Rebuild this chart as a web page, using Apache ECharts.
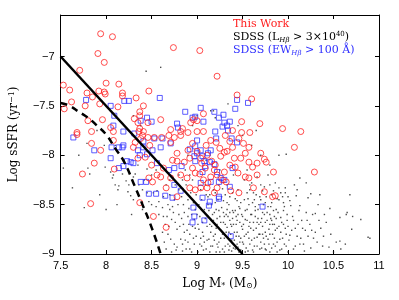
<!DOCTYPE html>
<html><head><meta charset="utf-8">
<script src="https://cdn.jsdelivr.net/npm/echarts@6/dist/echarts.min.js"></script>
<style>html,body{margin:0;padding:0;background:#fff}#c{width:399px;height:300px}</style>
</head><body><div id="c"></div>
<script>
// ---- data (Log M*, Log sSFR) ----
var xTicks = [7.5, 8, 8.5, 9, 9.5, 10, 10.5, 11];
var yTicks = [-9, -8.5, -8, -7.5, -7];

var solidLineX = [7.5, 9.5];
var solidLineY = [-7.0, -9.0];
var dashedLineX = [7.5, 7.6, 7.7, 7.8, 7.9, 8.0, 8.1, 8.2, 8.3, 8.4, 8.5, 8.6];
var dashedLineY = [-7.47, -7.5, -7.56, -7.62, -7.7, -7.79, -7.93, -8.07, -8.28, -8.5, -8.73, -9.0];

var thisWork = [
[7.94,-6.77],[8.07,-6.80],[7.91,-6.97],[7.98,-7.06],[7.71,-7.14],[7.53,-7.29],[7.60,-7.34],[7.79,-7.37],
[8.0,-7.27],[8.14,-7.28],[7.92,-7.35],[7.98,-7.36],[8.18,-7.37],[8.18,-7.40],[7.85,-7.41],[7.99,-7.38],
[8.47,-7.35],[8.33,-7.42],[7.62,-7.46],[7.77,-7.5],[7.93,-7.48],[7.54,-7.53],[8.13,-7.51],[8.41,-7.5],
[8.37,-7.56],[8.37,-7.6],[8.31,-7.63],[7.8,-7.65],[7.96,-7.64],[8.6,-7.64],[8.46,-7.67],[8.35,-7.67],
[8.05,-7.72],[8.08,-7.76],[8.37,-7.73],[7.84,-7.76],[7.68,-7.77],[8.36,-7.76],[8.41,-7.76],
[8.74,-6.91],[9.03,-6.94],[9.22,-7.2],[9.44,-7.39],[9.6,-7.43],[9.07,-7.58],[8.96,-7.64],[9.0,-7.65],
[8.93,-7.67],[9.49,-7.66],[9.69,-7.68],[8.71,-7.74],[8.84,-7.73],[8.82,-7.76],[9.0,-7.76],[9.07,-7.76],
[8.9,-7.77],[9.39,-7.75],[9.49,-7.77],[9.58,-7.77],[9.94,-7.73],[10.14,-7.76],
[10.07,-7.92],[10.29,-8.17],[9.86,-8.41],[9.84,-8.17],
[7.68,-7.79],[7.84,-7.88],[7.94,-7.95],[8.08,-7.85],[7.87,-8.08],[7.74,-8.19],[7.83,-8.49],[8.09,-8.14],
[8.3,-7.92],[8.32,-7.87],[8.38,-7.83],[8.4,-7.8],[8.48,-7.9],[8.46,-7.82],[8.53,-7.82],[8.61,-7.82],
[8.35,-8.03],[8.43,-8.02],[8.5,-8.1],[8.47,-8.23],[8.51,-8.27],[8.56,-8.2],[8.6,-8.22],[8.37,-8.48],
[8.52,-8.62],[8.66,-8.73],[8.66,-8.33],[8.63,-8.13],
[8.75,-7.82],[8.71,-7.87],[9.15,-7.85],[9.21,-7.87],[9.31,-7.8],[9.46,-7.83],[9.51,-7.88],[9.57,-7.92],
[8.9,-7.95],[9.0,-7.96],[9.33,-7.96],[9.39,-7.92],[8.78,-7.98],[8.73,-8.05],[8.78,-8.06],[8.86,-8.07],
[8.92,-8.03],[9.04,-8.03],[9.11,-8.0],[9.26,-8.01],[9.3,-7.97],[9.41,-8.03],[9.48,-8.03],[9.57,-8.07],
[9.66,-8.08],[9.74,-8.04],[9.76,-8.07],[9.42,-8.12],[9.61,-8.12],[8.95,-8.13],[9.09,-8.13],[9.19,-8.15],
[9.3,-8.17],[9.03,-8.19],[9.15,-8.22],[9.22,-8.2],[8.89,-8.23],[8.82,-8.2],[8.71,-8.23],[9.07,-8.25],
[9.28,-8.25],[9.32,-8.27],[9.53,-8.22],[9.57,-8.23],[8.92,-8.33],[8.98,-8.35],[9.04,-8.33],[9.11,-8.33],
[9.22,-8.33],[9.62,-8.33],[9.74,-8.37],[9.46,-8.38],[9.37,-8.36],[9.19,-8.38],[8.78,-8.42],[9.83,-8.42],
[8.82,-7.8],[8.69,-7.8],[9.1,-7.9],[9.25,-7.93],[9.36,-7.86],[9.05,-8.08],[9.16,-8.06],[9.45,-8.18],
[9.66,-8.2],[9.7,-7.98],[8.95,-7.88],[9.2,-8.1],[9.53,-7.98],[9.12,-8.28],[8.98,-8.18],[9.36,-8.1]
];

var sdssEW = [
[7.78,-7.44],[8.05,-7.5],[8.2,-7.45],[8.25,-7.45],[8.59,-7.42],[8.09,-7.6],[8.45,-7.62],[8.38,-7.65],
[8.5,-7.66],[8.08,-7.7],[8.19,-7.76],[8.31,-7.78],
[9.44,-7.44],[9.56,-7.47],[9.04,-7.52],[8.87,-7.56],[9.19,-7.56],[9.42,-7.53],[8.98,-7.61],[8.95,-7.62],
[9.29,-7.59],[9.24,-7.62],[9.07,-7.66],[9.36,-7.66],[9.3,-7.67],[9.33,-7.7],[8.78,-7.68],[8.79,-7.72],
[9.28,-7.71],[9.34,-7.75],[9.2,-7.76],
[7.64,-7.82],[7.87,-7.95],[8.05,-8.03],[8.06,-7.92],[8.14,-7.92],[8.19,-7.9],[8.18,-7.92],[8.23,-8.06],
[8.27,-8.07],[8.3,-8.08],[8.14,-8.13],[8.19,-8.11],[8.35,-7.95],[8.37,-8.0],[8.41,-7.86],[8.41,-7.92],
[8.45,-7.99],[8.51,-7.95],[8.53,-7.83],[8.6,-7.92],[8.56,-8.08],[8.38,-8.27],[8.44,-8.27],[8.47,-8.39],
[8.55,-8.39],[8.65,-8.41],[8.62,-7.83],
[9.0,-7.85],[9.21,-7.83],[9.38,-7.83],[9.44,-7.87],[8.71,-7.88],[8.98,-7.91],[9.04,-7.95],[9.15,-7.95],
[9.0,-7.98],[8.97,-8.01],[9.06,-8.01],[9.08,-8.06],[9.14,-8.07],[8.98,-8.06],[9.09,-8.11],[9.19,-8.09],
[8.83,-8.11],[8.69,-8.15],[8.75,-8.13],[9.39,-8.13],[9.06,-8.17],[9.22,-8.17],[9.15,-8.27],[9.24,-8.27],
[9.26,-8.23],[9.3,-8.25],[8.75,-8.3],[9.04,-8.28],[9.36,-8.32],[8.82,-8.36],[8.73,-8.43],[9.06,-8.43],
[9.24,-8.42],[9.14,-8.47],[9.13,-8.51],[8.96,-8.53],[8.97,-8.62],[8.95,-8.68],[9.08,-8.66],[9.72,-8.52],
[9.37,-8.82],[9.24,-8.44],[9.12,-7.98],[8.92,-7.94]
];

var sdssL = [
[7.53,-8.13],[7.63,-8.33],[7.76,-8.53],[7.8,-8.13],[7.82,-8.19],[7.79,-7.88],[7.93,-8.4],[7.99,-8.12],
[8.05,-8.17],[8.07,-8.23],[8.08,-8.2],[8.1,-8.3],[8.13,-8.35],[8.14,-8.31],[8.18,-8.19],[8.22,-8.26],
[8.25,-8.3],[8.3,-8.22],[8.32,-8.19],[8.24,-8.37],[8.27,-8.41],[8.3,-8.45],[8.36,-8.3],[8.4,-8.35],
[8.42,-8.25],[8.45,-8.38],[8.47,-8.47],[8.5,-8.5],[8.55,-8.52],[8.58,-8.47],[8.62,-8.53],[8.52,-8.38],
[8.56,-8.36],[8.58,-8.6],[8.63,-8.62],[8.45,-8.14],[8.5,-8.2],[8.55,-8.15],[8.35,-8.1],[8.2,-8.05],
[7.98,-7.9],[7.7,-8.0],[8.0,-8.55],[8.12,-8.5],[8.28,-8.6],[8.4,-8.55],[7.9,-7.75],[8.38,-7.7],
[8.6,-7.11],[8.44,-7.15],[9.34,-7.48],[9.18,-7.55],
[8.65,-8.7],[8.68,-8.8],[8.7,-8.55],[8.72,-8.65],[8.75,-8.9],[8.78,-8.75],[8.8,-8.6],[8.82,-8.85],
[8.85,-8.7],[8.85,-8.5],[8.88,-8.95],[8.9,-8.62],[8.92,-8.8],[8.95,-8.72],[8.97,-8.9],[8.98,-8.55],
[8.7,-8.4],[8.75,-8.45],[8.8,-8.35],[8.83,-8.42],[8.88,-8.3],[8.9,-8.45],[8.93,-8.38],[8.96,-8.48],
[8.66,-8.95],[8.72,-8.98],[8.78,-8.93],[8.84,-8.97],[8.9,-8.88],[8.94,-8.98],[8.99,-8.82],[8.68,-8.5],
[8.74,-8.58],[8.86,-8.78],[8.91,-8.7],[8.97,-8.65],[8.7,-8.25],[8.8,-8.2],[8.95,-8.25],[8.87,-8.15],
[9.0,-8.6],[9.02,-8.75],[9.03,-8.9],[9.05,-8.45],[9.06,-8.68],[9.07,-8.82],[9.08,-8.55],[9.1,-8.95],
[9.11,-8.72],[9.12,-8.62],[9.13,-8.85],[9.14,-8.4],[9.15,-8.78],[9.16,-8.5],[9.17,-8.92],[9.18,-8.66],
[9.19,-8.58],[9.2,-8.8],[9.21,-8.98],[9.22,-8.7],[9.23,-8.45],[9.24,-8.88],[9.25,-8.62],[9.26,-8.76],
[9.27,-8.53],[9.28,-8.95],[9.29,-8.68],[9.3,-8.84],[9.31,-8.4],[9.32,-8.6],[9.33,-8.73],[9.34,-8.9],
[9.35,-8.5],[9.36,-8.66],[9.37,-8.8],[9.38,-8.97],[9.39,-8.56],[9.4,-8.7],[9.41,-8.86],[9.42,-8.44],
[9.43,-8.62],[9.44,-8.78],[9.45,-8.93],[9.46,-8.52],[9.47,-8.68],[9.48,-8.84],[9.49,-8.6],[9.5,-8.75],
[9.01,-8.98],[9.04,-8.35],[9.09,-8.3],[9.12,-8.5],[9.18,-8.35],[9.21,-8.55],[9.24,-8.3],[9.27,-8.42],
[9.3,-8.98],[9.33,-8.48],[9.36,-8.92],[9.39,-8.38],[9.42,-8.95],[9.45,-8.35],[9.48,-8.48],[9.05,-8.92],
[9.14,-8.98],[9.19,-8.86],[9.23,-8.93],[9.26,-8.84],[9.31,-8.7],[9.35,-8.78],[9.4,-8.58],[9.44,-8.66],
[9.47,-8.88],[9.08,-8.88],[9.16,-8.72],[9.22,-8.64],[9.29,-8.58],[9.34,-8.62],[9.38,-8.72],[9.43,-8.82],
[9.46,-8.98],
[9.51,-8.9],[9.52,-8.45],[9.53,-8.65],[9.54,-8.8],[9.55,-8.55],[9.56,-8.97],[9.57,-8.72],[9.58,-8.35],
[9.59,-8.6],[9.6,-8.86],[9.61,-8.48],[9.62,-8.76],[9.63,-8.92],[9.64,-8.62],[9.65,-8.4],[9.66,-8.83],
[9.67,-8.55],[9.68,-8.7],[9.69,-8.95],[9.7,-8.3],[9.71,-8.64],[9.72,-8.8],[9.73,-8.5],[9.74,-8.9],
[9.75,-8.68],[9.76,-8.42],[9.77,-8.58],[9.78,-8.85],[9.79,-8.75],[9.8,-8.98],[9.81,-8.52],[9.82,-8.66],
[9.83,-8.8],[9.84,-8.36],[9.85,-8.62],[9.86,-8.92],[9.87,-8.55],[9.88,-8.74],[9.9,-8.45],[9.91,-8.85],
[9.92,-8.63],[9.93,-8.95],[9.95,-8.7],[9.96,-8.52],[9.97,-8.38],[9.98,-8.8],[9.99,-8.6],
[9.52,-8.25],[9.55,-8.38],[9.6,-8.28],[9.63,-8.45],[9.66,-8.22],[9.7,-8.45],[9.74,-8.32],[9.78,-8.2],
[9.82,-8.4],[9.86,-8.28],[9.9,-8.33],[9.94,-8.42],[9.53,-8.98],[9.57,-8.84],[9.62,-8.98],[9.66,-8.68],
[9.7,-8.88],[9.75,-8.95],[9.8,-8.7],[9.84,-8.9],[9.88,-8.98],[9.58,-8.68],[9.64,-8.52],[9.68,-8.8],
[9.72,-8.58],[9.76,-8.82],[9.8,-8.6],[9.85,-8.7],[9.92,-8.78],[9.96,-8.9],
[9.9,-8.0],[9.98,-7.99],[10.13,-8.23],[9.97,-8.33],[9.92,-8.38],[10.0,-8.42],[10.09,-8.41],[10.22,-8.43],
[10.25,-8.39],[10.68,-8.4],[10.46,-8.54],[10.57,-8.63],[10.64,-8.6],[10.71,-8.62],[10.3,-8.59],[10.13,-8.51],
[10.03,-8.51],[10.0,-8.72],[10.02,-8.81],[10.08,-8.74],[10.1,-8.82],[10.13,-8.9],[10.19,-8.76],[10.24,-8.7],
[10.28,-8.84],[10.3,-8.78],[10.36,-8.74],[10.38,-8.92],[10.39,-8.82],[10.53,-8.88],[10.58,-8.95],[10.63,-8.9],
[10.9,-8.84],[10.5,-8.98],[10.0,-8.98],[10.25,-8.94],[10.65,-8.58],[10.88,-8.83],[10.57,-8.87],[10.05,-8.62],
[10.15,-8.66],[10.2,-8.58],[10.33,-8.5],[10.42,-8.68],[10.47,-8.8],[10.1,-8.35],[10.2,-8.28],[10.35,-8.4],
[10.06,-8.95],[10.18,-8.97],[10.45,-8.93],[10.7,-8.75],[10.8,-8.65],
[9.0,-7.6],[9.15,-7.55],[9.2,-7.62],[9.45,-7.7],[9.6,-7.9],[9.7,-8.0],[9.8,-8.1],[9.55,-8.15],
[9.4,-8.2],[9.25,-8.15],[9.1,-8.05],[8.9,-8.0],[8.95,-7.7],[9.5,-7.8],[9.65,-7.75],[8.1,-7.9],[8.3,-7.6],
[8.62,-8.78],[8.64,-8.88],[8.67,-8.62],[8.69,-8.72],[8.71,-8.85],[8.73,-8.52],[8.76,-8.68],[8.77,-8.96],
[8.79,-8.5],[8.81,-8.72],[8.83,-8.64],[8.84,-8.9],[8.86,-8.58],[8.87,-8.86],[8.89,-8.76],[8.91,-8.54],
[8.92,-8.95],[8.94,-8.6],[8.96,-8.84],[8.98,-8.74],[8.63,-8.42],[8.66,-8.3],[8.76,-8.3],[8.84,-8.25],
[8.92,-8.2],[8.99,-8.4],
[9.01,-8.7],[9.02,-8.5],[9.03,-8.62],[9.04,-8.84],[9.06,-8.78],[9.07,-8.96],[9.09,-8.64],[9.1,-8.4],
[9.11,-8.86],[9.13,-8.56],[9.14,-8.7],[9.15,-8.92],[9.17,-8.6],[9.18,-8.82],[9.2,-8.48],[9.21,-8.74],
[9.22,-8.9],[9.24,-8.56],[9.25,-8.98],[9.26,-8.68],[9.28,-8.8],[9.29,-8.46],[9.3,-8.62],[9.31,-8.92],
[9.32,-8.78],[9.33,-8.55],[9.34,-8.84],[9.35,-8.96],[9.36,-8.58],[9.37,-8.7],[9.38,-8.86],[9.39,-8.64],
[9.4,-8.94],[9.41,-8.78],[9.42,-8.56],[9.43,-8.7],[9.44,-8.9],[9.45,-8.6],[9.46,-8.82],[9.47,-8.54],
[9.48,-8.96],[9.49,-8.72],[9.5,-8.88],[9.5,-8.62],[9.12,-8.42],[9.2,-8.38],[9.28,-8.34],[9.36,-8.42],
[9.44,-8.46],[9.33,-8.3],
[9.51,-8.7],[9.52,-8.82],[9.53,-8.56],[9.54,-8.94],[9.55,-8.66],[9.56,-8.78],[9.57,-8.5],[9.58,-8.9],
[9.59,-8.74],[9.6,-8.6],[9.61,-8.96],[9.62,-8.68],[9.63,-8.84],[9.64,-8.56],[9.65,-8.74],[9.66,-8.92],
[9.67,-8.64],[9.68,-8.5],[9.69,-8.8],[9.7,-8.68],[9.71,-8.94],[9.72,-8.72],[9.73,-8.84],[9.74,-8.6],
[9.75,-8.78],[9.76,-8.96],[9.77,-8.66],[9.78,-8.52],[9.79,-8.9],[9.8,-8.8],[9.81,-8.64],[9.82,-8.94],
[9.83,-8.7],[9.84,-8.56],[9.85,-8.84],[9.86,-8.76],[9.87,-8.64],[9.88,-8.88],[9.89,-8.58],[9.9,-8.72],
[9.91,-8.96],[9.93,-8.68],[9.94,-8.84],[9.95,-8.56],[9.97,-8.74],[9.98,-8.92],[9.99,-8.66],[9.56,-8.44],
[9.62,-8.38],[9.69,-8.42],[9.75,-8.48],[9.82,-8.48],[9.88,-8.44],[9.95,-8.48],[9.58,-8.3],[9.72,-8.36],
[9.8,-8.3],
[10.01,-8.86],[10.04,-8.76],[10.06,-8.66],[10.08,-8.92],[10.11,-8.7],[10.12,-8.56],[10.14,-8.84],[10.16,-8.74],
[10.17,-8.9],[10.21,-8.66],[10.22,-8.82],[10.26,-8.76],[10.27,-8.6],[10.32,-8.88],[10.34,-8.66],[10.4,-8.6],
[10.02,-8.46],[10.07,-8.3]
];

// ---- chart ----
var serif = 'DejaVu Serif';
var sans = 'Liberation Sans';
function fmt(v){ if (Math.abs(v*2 - Math.round(v*2)) > 1e-6) return ''; return String(v).replace('-', '\u2212'); }
function zip(xs, ys){ return xs.map(function(x,i){ return [x, ys[i]]; }); }

var chart = echarts.init(document.getElementById('c'), null, {renderer:'canvas'});
chart.setOption({
  animation: false,
  backgroundColor: '#fff',
  grid: {left: 60, right: 20, top: 15, bottom: 46, show: false},
  xAxis: [{
    type: 'value', min: xTicks[0], max: xTicks[xTicks.length-1], interval: 0.5, position: 'bottom',
    axisLine: {show: true, onZero: false, lineStyle:{color:'#000', width:1}},
    axisTick: {show: true, inside: true, length: 4, lineStyle:{color:'#000'}},
    splitLine: {show: false},
    axisLabel: {formatter: fmt, color: '#000', fontFamily: sans, fontSize: 11, margin: 6},
    name: 'Log M{s|*} (M{s|\u2299})', nameLocation: 'middle', nameGap: 18,
    nameTextStyle: {fontFamily: serif, fontSize: 12, color: '#000',
      rich: {s: {fontFamily: serif, fontSize: 8, verticalAlign: 'bottom', lineHeight: 12, padding:[6,0,0,0]}}}
  },{
    type: 'value', min: xTicks[0], max: xTicks[xTicks.length-1], interval: 0.5, position: 'top',
    axisLine: {show: true, onZero: false, lineStyle:{color:'#000', width:1}},
    axisTick: {show: true, inside: true, length: 4, lineStyle:{color:'#000'}},
    splitLine: {show: false}, axisLabel: {show: false}
  }],
  yAxis: [{
    type: 'value', min: yTicks[0], max: -6.58, interval: 0.5, position: 'left',
    axisLine: {show: true, onZero: false, lineStyle:{color:'#000', width:1}},
    axisTick: {show: true, inside: true, length: 4, lineStyle:{color:'#000'}},
    splitLine: {show: false},
    axisLabel: {formatter: fmt, color: '#000', fontFamily: sans, fontSize: 11, margin: 6, showMaxLabel: false},
    name: 'Log sSFR (yr{p|\u22121})', nameLocation: 'middle', nameGap: 30, nameRotate: 90,
    nameTextStyle: {fontFamily: serif, fontSize: 12, color: '#000',
      rich: {p: {fontFamily: serif, fontSize: 8, verticalAlign: 'top', lineHeight: 12, padding:[0,0,6,0]}}}
  },{
    type: 'value', min: yTicks[0], max: -6.58, interval: 0.5, position: 'right',
    axisLine: {show: true, onZero: false, lineStyle:{color:'#000', width:1}},
    axisTick: {show: true, inside: true, length: 4, lineStyle:{color:'#000'}},
    splitLine: {show: false}, axisLabel: {show: false}
  }],
  graphic: [{
    type: 'text', left: 233, top: 19, z: 100,
    style: {
      rich: {
        r: {fontFamily: serif, fontSize: 11, fill: '#ff2020', lineHeight: 13},
        k: {fontFamily: serif, fontSize: 11, fill: '#000', lineHeight: 13},
        ks: {fontFamily: serif, fontSize: 7, fontStyle: 'italic', fill: '#000', lineHeight: 13, verticalAlign: 'bottom', padding:[4,0,0,0]},
        kp: {fontFamily: serif, fontSize: 7, fill: '#000', lineHeight: 13, verticalAlign: 'top', padding:[0,0,4,0]},
        b: {fontFamily: serif, fontSize: 11, fill: '#3030ff', lineHeight: 13},
        bs: {fontFamily: serif, fontSize: 7, fontStyle: 'italic', fill: '#3030ff', lineHeight: 13, verticalAlign: 'bottom', padding:[4,0,0,0]}
      },
      text: '{r|This Work}\n{k|SDSS (L}{ks|H\u03b2}{k| > 3\u00d710}{kp|40}{k|)}\n{b|SDSS (EW}{bs|H\u03b2}{b| > 100 \u00c5)}'
    }
  }],
  series: [{
    type: 'scatter', data: sdssL, symbol: 'rect', symbolSize: 1.4,
    itemStyle: {color: '#222'}, z: 1, silent: true
  },{
    type: 'scatter', data: sdssEW, symbol: 'rect', symbolSize: 5,
    itemStyle: {color: 'rgba(0,0,0,0)', borderColor: '#3535ff', borderWidth: 1}, z: 2, silent: true
  },{
    type: 'scatter', data: thisWork, symbol: 'circle', symbolSize: 6,
    itemStyle: {color: 'rgba(0,0,0,0)', borderColor: '#ff2020', borderWidth: 1}, z: 3, silent: true
  },{
    type: 'line', data: zip(solidLineX, solidLineY), showSymbol: false, symbol: 'none',
    lineStyle: {color: '#000', width: 2.5}, z: 5, silent: true
  },{
    type: 'line', data: zip(dashedLineX, dashedLineY), showSymbol: false, symbol: 'none', smooth: true,
    lineStyle: {color: '#000', width: 2.5, type: [7, 5]}, z: 5, silent: true
  }]
});
</script></body></html>
